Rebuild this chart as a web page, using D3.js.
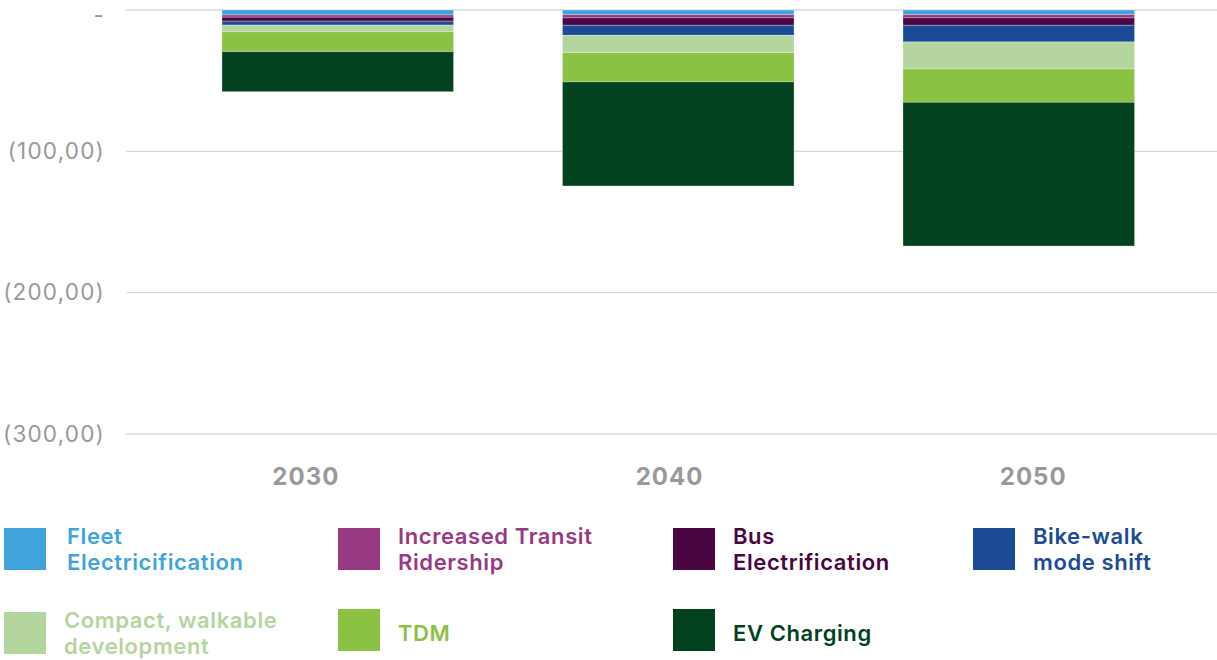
<!DOCTYPE html>
<html>
<head>
<meta charset="utf-8">
<script src="https://cdn.jsdelivr.net/npm/d3@7"></script>
<style>
  html, body { margin: 0; padding: 0; background: #fff; }
  svg { display: block; font-family: Inter, "Open Sans", sans-serif; }
</style>
</head>
<body>
<svg id="chart" width="1217" height="660"></svg>
<script>
// Emission reductions by strategy (negative = reduction)
const years = ["2030", "2040", "2050"];
const seriesNames = [
  "Fleet Electricification",
  "Increased Transit Ridership",
  "Bus Electrification",
  "Bike-walk mode shift",
  "Compact, walkable development",
  "TDM",
  "EV Charging"
];
const legendLines = [
  ["Fleet", "Electricification"],
  ["Increased Transit", "Ridership"],
  ["Bus", "Electrification"],
  ["Bike-walk", "mode shift"],
  ["Compact, walkable", "development"],
  ["TDM"],
  ["EV Charging"]
];
const fleet    = [-3.5, -3.3, -3.3];
const transit  = [-1.6, -2.3, -2.3];
const bus      = [-2.8, -5.2, -5.2];
const bikeWalk = [-2.8, -7.1, -11.8];
const compact  = [-4.7, -12.3, -19.1];
const tdm      = [-14.1, -20.7, -23.6];
const evCharge = [-28.3, -73.6, -101.7];
const seriesValues = [fleet, transit, bus, bikeWalk, compact, tdm, evCharge];
const colors = ["#3fa3dc", "#973a83", "#4a0640", "#1b4b96", "#b5d59f", "#8bc243", "#02421e"];
const yTicks = [0, -100, -200, -300];
const yTickLabels = ["-", "(100,00)", "(200,00)", "(300,00)"];

const svg = d3.select("#chart");
const plotLeft = 126, plotRight = 1217;

const y = d3.scaleLinear().domain([0, -300]).range([10, 434]);
const xLabel = d3.scaleBand().domain(years).range([plotLeft - 2, plotRight - 2]);
const xBar = d3.scaleBand().domain(years).range([167.5, 1189])
  .paddingInner(0.32).paddingOuter(0.16);

// gridlines
svg.append("g")
  .selectAll("line")
  .data(yTicks)
  .join("line")
  .attr("x1", plotLeft).attr("x2", plotRight)
  .attr("y1", d => y(d)).attr("y2", d => y(d))
  .attr("stroke", "#d9d9d9").attr("stroke-width", 1.3);

// y axis labels
const yAxis = d3.axisLeft(y).tickValues(yTicks)
  .tickFormat((d, i) => yTickLabels[i]).tickSize(0).tickPadding(0);
const yG = svg.append("g").attr("transform", "translate(105,0)").call(yAxis);
yG.select(".domain").remove();
yG.selectAll("text")
  .attr("fill", "#999").attr("font-size", 22.5)
  .attr("letter-spacing", 1.2)
  .attr("font-family", "Inter, sans-serif");
yG.selectAll(".tick").filter(d => d === 0).select("text").attr("dy", "0.55em");

// stacked data
const table = years.map((yr, i) => {
  const row = { year: yr };
  seriesNames.forEach((s, k) => row[s] = seriesValues[k][i]);
  return row;
});
const stack = d3.stack().keys(seriesNames).offset(d3.stackOffsetDiverging);
const stacked = stack(table);

svg.append("g")
  .selectAll("g")
  .data(stacked)
  .join("g")
  .attr("fill", (d, i) => colors[i])
  .selectAll("rect")
  .data(d => d)
  .join("rect")
  .attr("x", d => xBar(d.data.year))
  .attr("width", xBar.bandwidth())
  .attr("y", d => Math.min(y(d[0]), y(d[1])))
  .attr("height", d => Math.abs(y(d[0]) - y(d[1])))
  .attr("stroke", "rgba(255,255,255,0.35)")
  .attr("stroke-width", 0.8);

// x axis labels
const xAxis = d3.axisBottom(xLabel).tickSize(0).tickPadding(0);
const xG = svg.append("g").attr("transform", "translate(0,468)").call(xAxis);
xG.select(".domain").remove();
xG.selectAll("text")
  .attr("fill", "#999").attr("font-size", 24).attr("font-weight", 700)
  .attr("letter-spacing", 1)
  .attr("font-family", "Inter, sans-serif");

// legend
const colX = [4, 338, 673, 973];
const rowCY = [549, 633];
const sw = 42;
const legend = svg.append("g");
seriesNames.forEach((name, i) => {
  const col = i % 4, row = Math.floor(i / 4);
  const g = legend.append("g")
    .attr("transform", `translate(${colX[col]},${rowCY[row]})`);
  g.append("rect")
    .attr("x", 0).attr("y", -sw / 2 - (row === 1 && col > 0 ? 3 : 0))
    .attr("width", sw).attr("height", sw)
    .attr("fill", colors[i]);
  const lines = legendLines[i];
  const lh = 26;
  const t = g.append("text")
    .attr("fill", colors[i])
    .attr("font-size", 22).attr("font-weight", 600)
    .attr("letter-spacing", 0.6);
  lines.forEach((ln, j) => {
    t.append("tspan")
      .attr("x", i === 0 ? 63 : 60)
      .attr("y", (j - (lines.length - 1) / 2) * lh)
      .attr("dy", "0.36em")
      .text(ln);
  });
});
</script>
</body>
</html>
